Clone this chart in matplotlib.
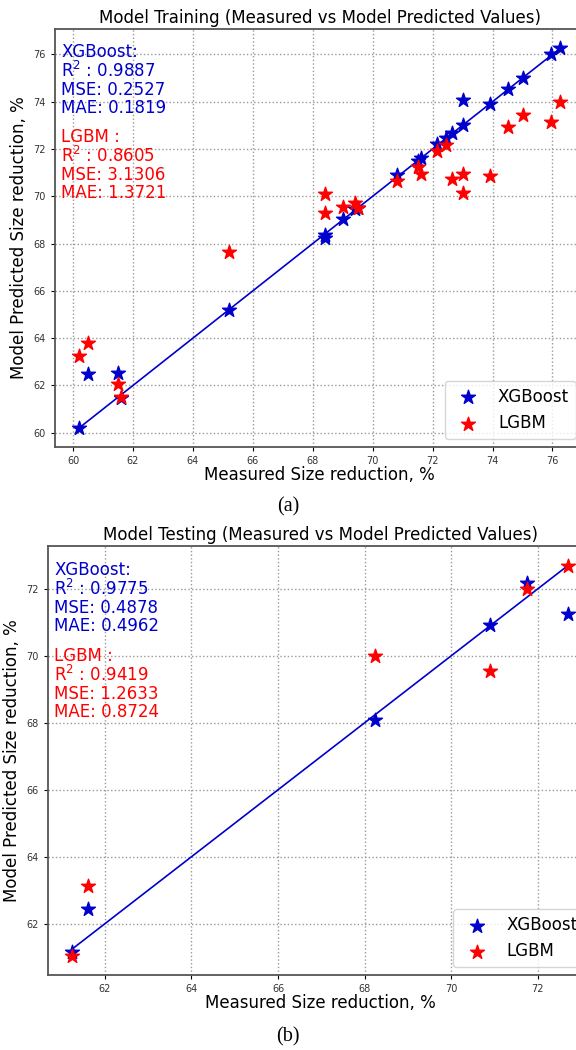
import numpy as np
import matplotlib
matplotlib.use("Agg")
import matplotlib.pyplot as plt

# (a) training set
train_measured = [60.2, 60.5, 61.5, 61.6, 65.2, 68.4, 68.4, 69.0, 69.4, 69.5,
                  70.8, 71.5, 71.6, 72.15, 72.45, 72.65, 73.0, 73.0, 73.9,
                  74.5, 75.0, 75.95, 76.25]
train_xgb = [60.2, 62.48, 62.53, 61.48, 65.21, 68.35, 68.25, 69.03, 69.45, 69.5,
             70.89, 71.5, 71.62, 72.22, 72.47, 72.67, 73.0, 74.06, 73.92,
             74.55, 75.01, 76.0, 76.27]
train_lgbm = [63.24, 63.8, 62.04, 61.52, 67.65, 70.08, 69.31, 69.55, 69.72, 69.51,
              70.63, 71.24, 70.96, 71.9, 72.15, 70.71, 70.96, 70.14, 70.86,
              72.93, 73.42, 73.14, 73.98]
train_xgb_stats = ["0.9887", "0.2527", "0.1819"]
train_lgbm_stats = ["0.8605", "3.1306", "1.3721"]

# (b) testing set
test_measured = [61.25, 61.6, 68.25, 70.9, 71.75, 72.7]
test_xgb = [61.15, 62.43, 68.08, 70.93, 72.17, 71.26]
test_lgbm = [61.04, 63.14, 70.01, 69.55, 72.0, 72.69]
test_xgb_stats = ["0.9775", "0.4878", "0.4962"]
test_lgbm_stats = ["0.9419", "1.2633", "0.8724"]

BLUE = "mediumblue"
RED = "red"

fig = plt.figure(figsize=(5.76, 10.5), dpi=100)


def panel(rect, title, measured, xgb, lgbm, xgb_stats, lgbm_stats, caption, cap_y):
    ax = fig.add_axes(rect)
    ax.scatter(measured, xgb, marker="*", s=110, color=BLUE, label="XGBoost", zorder=3)
    ax.scatter(measured, lgbm, marker="*", s=110, color=RED, label="LGBM", zorder=3)
    lo, hi = min(measured), max(measured)
    ax.plot([lo, hi], [lo, hi], color=BLUE, lw=1.2, zorder=2)
    ax.grid(True, linestyle=":", color="#999999", lw=1.0)
    ax.set_axisbelow(True)
    ax.tick_params(labelsize=7, length=3, labelcolor="#333333")
    for sp in ax.spines.values():
        sp.set_color("#555555")
        sp.set_linewidth(1.3)
    ax.set_title(title, fontsize=12, pad=4)
    ax.set_xlabel("Measured Size reduction, %", fontsize=12, labelpad=0)
    ax.set_ylabel("Model Predicted Size reduction, %", fontsize=12, labelpad=4)
    ax.text(0.012, 0.966, "XGBoost:\nR$^2$ : %s\nMSE: %s\nMAE: %s" % tuple(xgb_stats),
            transform=ax.transAxes, color=BLUE, fontsize=12, va="top", ha="left",
            linespacing=1.0)
    ax.text(0.012, 0.764, "LGBM :\nR$^2$ : %s\nMSE: %s\nMAE: %s" % tuple(lgbm_stats),
            transform=ax.transAxes, color=RED, fontsize=12, va="top", ha="left",
            linespacing=1.0)
    ax.legend(loc="lower right", fontsize=12, scatterpoints=1)
    fig.text(0.5, cap_y, caption, ha="center", va="center", fontsize=14.5,
             family="Liberation Serif")
    return ax


panel([0.0955, 0.5743, 0.9184, 0.3981],
      "Model Training (Measured vs Model Predicted Values)",
      train_measured, train_xgb, train_lgbm, train_xgb_stats, train_lgbm_stats,
      "(a)", 1 - 507 / 1050)
panel([0.0828, 0.0711, 0.9462, 0.4089],
      "Model Testing (Measured vs Model Predicted Values)",
      test_measured, test_xgb, test_lgbm, test_xgb_stats, test_lgbm_stats,
      "(b)", 1 - 1037 / 1050)

fig.savefig("out.png", dpi=100)
